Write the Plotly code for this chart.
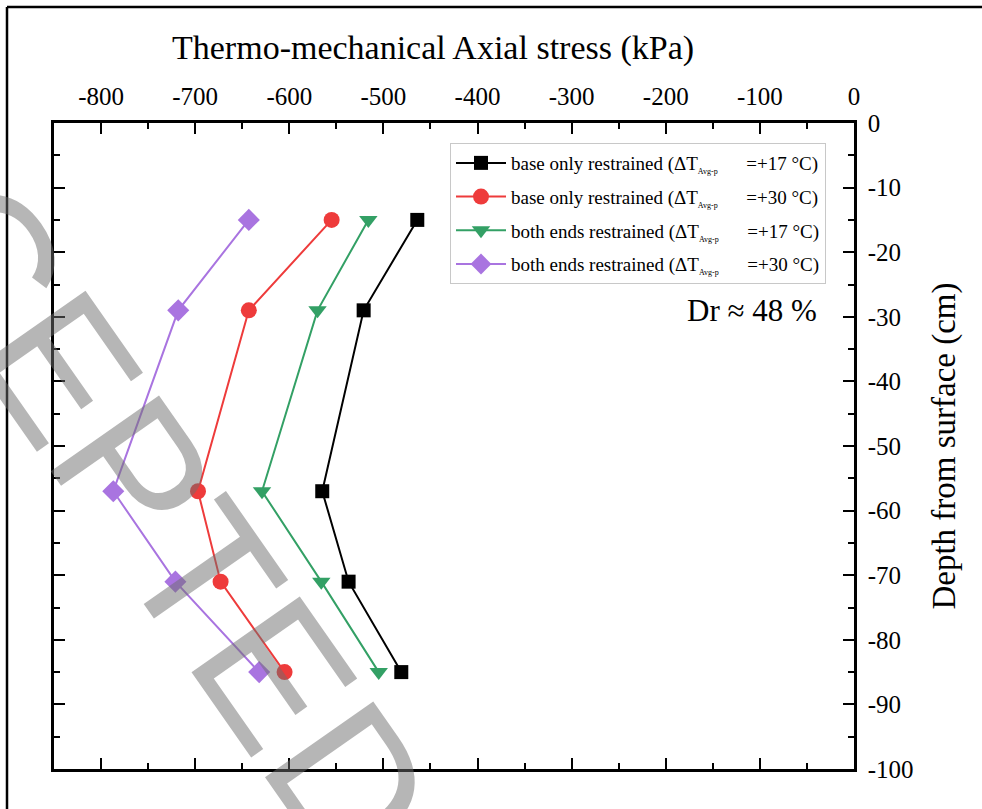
import plotly.graph_objects as go

# Depth of each measurement point (cm, negative below the surface)
depth = [-15, -29, -57, -71, -85]

# Thermo-mechanical axial stress (kPa) for each case
base_17 = [-464, -521, -565, -537, -481]
base_30 = [-555, -643, -697, -673, -605]
both_17 = [-516, -570, -629, -566, -505]
both_30 = [-643, -718, -787, -721, -632]

SUB = "<sub><span style='font-size:8px'>Avg-p</span></sub>" + "&nbsp;" * 6
series_names = [
    f"base only restrained (ΔT{SUB}=+17 °C)",
    f"base only restrained (ΔT{SUB}=+30 °C)",
    f"both ends restrained (ΔT{SUB}=+17 °C)",
    f"both ends restrained (ΔT{SUB}=+30 °C)",
]

x_tickvals = [-800, -700, -600, -500, -400, -300, -200, -100, 0]
x_ticktext = ["-800", "-700", "-600", "-500", "-400", "-300", "-200", "-100", "0"]
y_tickvals = [0, -10, -20, -30, -40, -50, -60, -70, -80, -90, -100]
y_ticktext = ["0", "-10", "-20", "-30", "-40", "-50", "-60", "-70", "-80", "-90", "-100"]

SERIF = "Liberation Serif, Times New Roman, serif"

styles = [
    dict(color="#000000", symbol="square", size=14),
    dict(color="#ee3b3b", symbol="circle", size=16),
    dict(color="#33a065", symbol="triangle-down", size=16),
    dict(color="#a974e0", symbol="diamond", size=17),
]

fig = go.Figure()
for i, (vals, name, st) in enumerate(zip([base_17, base_30, both_17, both_30], series_names, styles)):
    fig.add_trace(go.Scatter(
        x=vals, y=depth, name=name, mode="lines+markers", legendgroup=f"g{i}",
        line=dict(color=st["color"], width=2),
        marker=dict(color=st["color"], symbol=st["symbol"], size=st["size"],
                    line=dict(width=0)),
    ))

axis_common = dict(
    showgrid=False, zeroline=False, showline=True, linecolor="black", linewidth=2.5,
    mirror="ticks", ticks="inside", ticklen=11, tickwidth=2, tickcolor="black",
    tickfont=dict(family=SERIF, size=25, color="black"), automargin=False,
)

fig.update_xaxes(
    side="top", range=[-850, 0], tickmode="array", tickvals=x_tickvals, ticktext=x_ticktext,
    ticklabelstandoff=5,
    minor=dict(dtick=50, tick0=0, ticks="inside", ticklen=6, tickwidth=2, tickcolor="black"),
    **axis_common,
)
fig.update_yaxes(
    side="right", range=[-100, 0], tickmode="array", tickvals=y_tickvals, ticktext=y_ticktext,
    ticklabelstandoff=6,
    minor=dict(dtick=5, tick0=0, ticks="inside", ticklen=6, tickwidth=2, tickcolor="black"),
    title=dict(text="Depth from surface (cm)", font=dict(family=SERIF, size=33, color="black"),
               standoff=20),
    **axis_common,
)

fig.update_layout(
    width=982, height=809,
    margin=dict(l=54, r=128, t=123, b=40),
    paper_bgcolor="white", plot_bgcolor="white",
    font=dict(family=SERIF, color="black"),
    legend=dict(
        x=0.495, y=0.969, xanchor="left", yanchor="top",
        bgcolor="white", bordercolor="#c8c8c8", borderwidth=1,
        font=dict(family=SERIF, size=19, color="black"),
        itemwidth=50, traceorder="grouped", tracegroupgap=6,
    ),
    showlegend=True,
)

# Axis title above the top axis
fig.add_annotation(
    text="Thermo-mechanical Axial stress (kPa)", xref="paper", yref="paper",
    x=0.474, y=1.116, xanchor="center", yanchor="middle", showarrow=False,
    font=dict(family=SERIF, size=34, color="black"),
)

# Relative density note
fig.add_annotation(
    text="Dr ≈ 48 %", xref="paper", yref="paper",
    x=0.872, y=0.709, xanchor="center", yanchor="middle", showarrow=False,
    font=dict(family=SERIF, size=31, color="black"),
)

# Diagonal manuscript stamp across the plot
fig.add_annotation(
    text="ACCEPTED", xref="paper", yref="paper",
    x=0.045, y=0.553, xanchor="center", yanchor="middle", showarrow=False,
    textangle=55,
    font=dict(family="Liberation Sans, Arial, sans-serif", size=192,
              color="rgba(110,110,110,0.5)"),
)

# Outer frame: top and left edges (the others fall outside the page)
frame = dict(type="line", xref="paper", yref="paper",
             line=dict(color="black", width=2.5), layer="above")
fig.add_shape(x0=-0.05875, x1=1.4, y0=1.1796, y1=1.1796, **frame)
fig.add_shape(x0=-0.05875, x1=-0.05875, y0=1.1796, y1=-0.2, **frame)

fig.write_html("out.html")
